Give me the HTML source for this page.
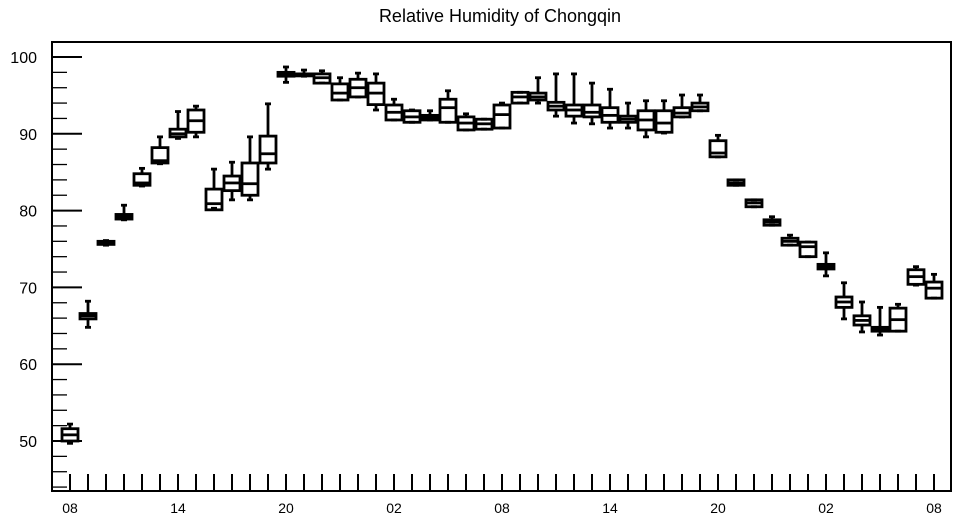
<!DOCTYPE html>
<html><head><meta charset="utf-8"><style>
html,body{margin:0;padding:0;background:#fff;}
svg{display:block;font-family:"Liberation Sans",sans-serif;}
</style></head><body>
<svg id="chart" width="957" height="520">
<text x="500" y="22" text-anchor="middle" font-size="18">Relative Humidity of Chongqin</text>
<g id="axes"></g><g id="boxes"></g>
<rect x="52" y="42" width="899" height="449" fill="none" stroke="#000" stroke-width="2"/>
</svg>
<script>
const hourLabels = ["08","14","20","02","08","14","20","02","08"];
const yTicks = [50,60,70,80,90,100];
const mins = [49.7,64.8,75.5,78.8,83.2,86.1,89.4,89.6,80.3,81.4,81.4,85.4,96.7,97.5,96.6,94.4,94.8,93.1,91.8,91.5,91.8,91.5,90.5,90.6,90.75,94.0,94.0,92.3,91.4,91.3,90.75,90.75,89.6,90.1,92.2,93.0,87.0,83.3,80.5,78.1,75.5,74.0,71.5,65.9,64.2,63.8,64.3,70.3,68.6];
const q1s = [50.0,65.9,75.6,78.9,83.3,86.2,89.6,90.2,80.1,82.6,82.0,86.2,97.5,97.6,96.6,94.4,94.8,93.8,91.8,91.5,91.8,91.5,90.5,90.6,90.75,94.0,94.4,93.1,92.3,92.2,91.5,91.5,90.5,90.2,92.2,93.0,87.0,83.3,80.5,78.1,75.5,74.0,72.4,67.4,65.1,64.3,64.3,70.4,68.6];
const medians = [50.8,66.3,75.8,79.2,83.6,86.5,90.0,91.7,80.9,83.6,83.5,87.4,97.8,97.7,97.3,95.3,96.0,95.3,92.8,92.2,92.1,93.4,91.4,91.3,92.5,94.8,94.8,93.6,93.1,92.8,92.4,91.9,91.8,91.4,92.7,93.5,87.5,83.6,81.0,78.5,76.0,75.3,72.7,68.1,65.7,64.6,65.8,71.4,69.9];
const q3s = [51.6,66.6,76.0,79.5,84.8,88.2,90.6,93.1,82.8,84.5,86.2,89.7,98.0,97.8,97.8,96.5,97.1,96.6,93.75,93.0,92.4,94.5,92.2,91.9,93.75,95.4,95.3,94.1,93.75,93.75,93.4,92.3,93.0,93.0,93.4,94.0,89.1,84.0,81.4,78.8,76.4,75.9,73.0,68.75,66.3,64.8,67.3,72.3,70.7];
const maxs = [52.2,68.2,76.1,80.7,85.5,89.6,92.9,93.6,85.4,86.3,89.6,93.9,98.7,98.3,98.2,97.3,97.9,97.8,94.5,93.1,93.0,95.6,92.6,91.9,94.0,95.4,97.3,97.8,97.8,96.6,95.8,94.0,94.3,94.3,95.05,95.05,89.8,84.0,81.4,79.2,76.8,75.9,74.5,70.6,68.1,67.4,67.8,72.7,71.7];

const NS="http://www.w3.org/2000/svg";
const X0=52,X1=951,Y0=42,Y1=491;
const yOf=v=>57+(100-v)*7.68;
const xOf=i=>70+18*i;
function mk(tag,attrs,parent){const e=document.createElementNS(NS,tag);for(const k in attrs)e.setAttribute(k,attrs[k]);parent.appendChild(e);return e;}
const axes=document.getElementById('axes'), boxes=document.getElementById('boxes');
for(let v=44;v<=102;v+=2){
  const y=yOf(v); if(y<Y0||y>Y1) continue;
  const major=v%10===0;
  const t=mk('line',{x1:X0,x2:major?82:67,y1:y,y2:y,stroke:'#000','stroke-width':major?2:1.3},axes);
  
  
}
yTicks.forEach(v=>{
  const t=mk('text',{x:37,y:yOf(v)+6,'text-anchor':'end','font-size':16},axes);
  t.textContent=v;
  
  
});
for(let i=0;i<49;i++){
  const t=mk('line',{x1:xOf(i),x2:xOf(i),y1:Y1,y2:474,stroke:'#000','stroke-width':2},axes);
  
  
}
hourLabels.forEach((l,k)=>{
  const t=mk('text',{x:xOf(k*6),y:513,'text-anchor':'middle','font-size':14},axes);
  t.textContent=l;
  
  
});
const hw=8,cw=3;
for(let i=0;i<medians.length;i++){
  const g=mk('g',{stroke:'#000','stroke-width':2.8,fill:'none'},boxes);
  
  
  const x=xOf(i);
  const yq3=yOf(q3s[i]), yq1=yOf(q1s[i]);
  mk('line',{x1:x,x2:x,y1:yOf(maxs[i]),y2:yq3},g);
  mk('line',{x1:x,x2:x,y1:yq1,y2:yOf(mins[i])},g);
  mk('line',{x1:x-cw,x2:x+cw,y1:yOf(maxs[i]),y2:yOf(maxs[i])},g);
  mk('line',{x1:x-cw,x2:x+cw,y1:yOf(mins[i]),y2:yOf(mins[i])},g);
  mk('rect',{x:x-hw,y:yq3,width:2*hw,height:Math.max(yq1-yq3,2)},g);
  mk('line',{x1:x-hw,x2:x+hw,y1:yOf(medians[i]),y2:yOf(medians[i])},g);
}
</script>
</body></html>
